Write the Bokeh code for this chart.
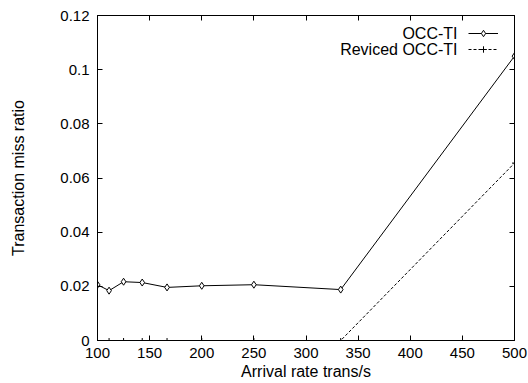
from bokeh.plotting import figure
from bokeh.models import (Range1d, LinearAxis, FixedTicker, CustomJSTickFormatter,
                          Legend, LegendItem, Label)
from bokeh.core.properties import value
from bokeh.embed import file_html
from bokeh.resources import INLINE

# Data
arrival_rate = [100, 111.1, 125, 142.9, 166.7, 200, 250, 333.3, 500]
occ_ti = [0.0206, 0.0184, 0.0217, 0.0214, 0.0196, 0.0202, 0.0206, 0.0188, 0.105]
reviced_occ_ti = [0, 0, 0, 0, 0, 0, 0, 0, 0.0655]
series_names = ["OCC-TI", "Reviced OCC-TI"]
x_ticks = [100, 150, 200, 250, 300, 350, 400, 450, 500]
y_ticks = [0, 0.02, 0.04, 0.06, 0.08, 0.1, 0.12]

FONT = "Liberation Sans"

p = figure(width=528, height=383,
           output_backend="svg", toolbar_location=None,
           x_range=Range1d(100, 500), y_range=Range1d(0, 0.12),
           min_border_left=97, min_border_right=14, min_border_top=15,
           min_border_bottom=43, x_axis_label="Arrival rate trans/s",
           y_axis_label="Transaction miss ratio")
p.xgrid.visible = False
p.ygrid.visible = False
p.outline_line_color = "black"
p.outline_line_alpha = 1.0
p.background_fill_color = "white"
p.border_fill_color = "white"

p.yaxis.formatter = CustomJSTickFormatter(code="return (+tick.toFixed(2)).toString();")
p.xaxis.ticker = FixedTicker(ticks=x_ticks)
p.yaxis.ticker = FixedTicker(ticks=y_ticks)

for ax in p.xaxis + p.yaxis:
    ax.major_tick_in = 5
    ax.major_tick_out = 0
    ax.minor_tick_in = 0
    ax.minor_tick_out = 0
    ax.axis_line_color = "black"
    ax.major_tick_line_color = "black"
    ax.major_label_text_font = FONT
    ax.major_label_text_font_size = "15px"
    ax.major_label_text_color = "black"
    ax.axis_label_text_font = FONT
    ax.axis_label_text_font_size = "16px"
    ax.axis_label_text_font_style = "normal"
    ax.axis_label_text_color = "black"

p.xaxis.major_label_standoff = 7
p.yaxis.major_label_standoff = 8
p.xaxis.axis_label_standoff = 2
p.yaxis.axis_label_standoff = 30

# mirror axes (ticks only)
blank = CustomJSTickFormatter(code="return '';")
for side, tick in (("right", y_ticks), ("above", x_ticks)):
    ax = LinearAxis(ticker=FixedTicker(ticks=tick), formatter=blank,
                    major_tick_in=5, major_tick_out=0, minor_tick_in=0,
                    minor_tick_out=0, major_label_text_font_size="0px",
                    major_label_standoff=0, axis_line_color="black")
    p.add_layout(ax, side)

r1 = p.line(arrival_rate, occ_ti, line_color="black", line_width=1)
s1 = p.scatter(arrival_rate, occ_ti, marker="diamond", size=7,
               line_color="black", fill_color="white", line_width=1)
r2 = p.line(arrival_rate, reviced_occ_ti, line_color="black", line_width=1,
            line_dash="3 2")
s2 = p.scatter(arrival_rate, reviced_occ_ti, marker="cross", size=5,
               line_color="black", line_width=1)

# gnuplot-style key: text right-aligned (Labels), sample to its right (Legend)
legend = Legend(items=[LegendItem(label=value(""), renderers=[r1, s1]),
                       LegendItem(label=value(""), renderers=[r2, s2])],
                location=(371, 283), border_line_alpha=0,
                background_fill_alpha=0, label_text_font_size="16px",
                label_standoff=0, label_width=0, label_height=16,
                glyph_width=30, glyph_height=16,
                spacing=0, padding=0, margin=0)
p.add_layout(legend)

for i, name in enumerate(series_names):
    p.add_layout(Label(x=360, y=307 - 16 * i, x_units="screen", y_units="screen",
                       text=name, text_align="right", text_baseline="middle",
                       text_font=FONT, text_font_size="16px", text_color="black"))

open("out.html", "w").write(file_html(p, INLINE))
